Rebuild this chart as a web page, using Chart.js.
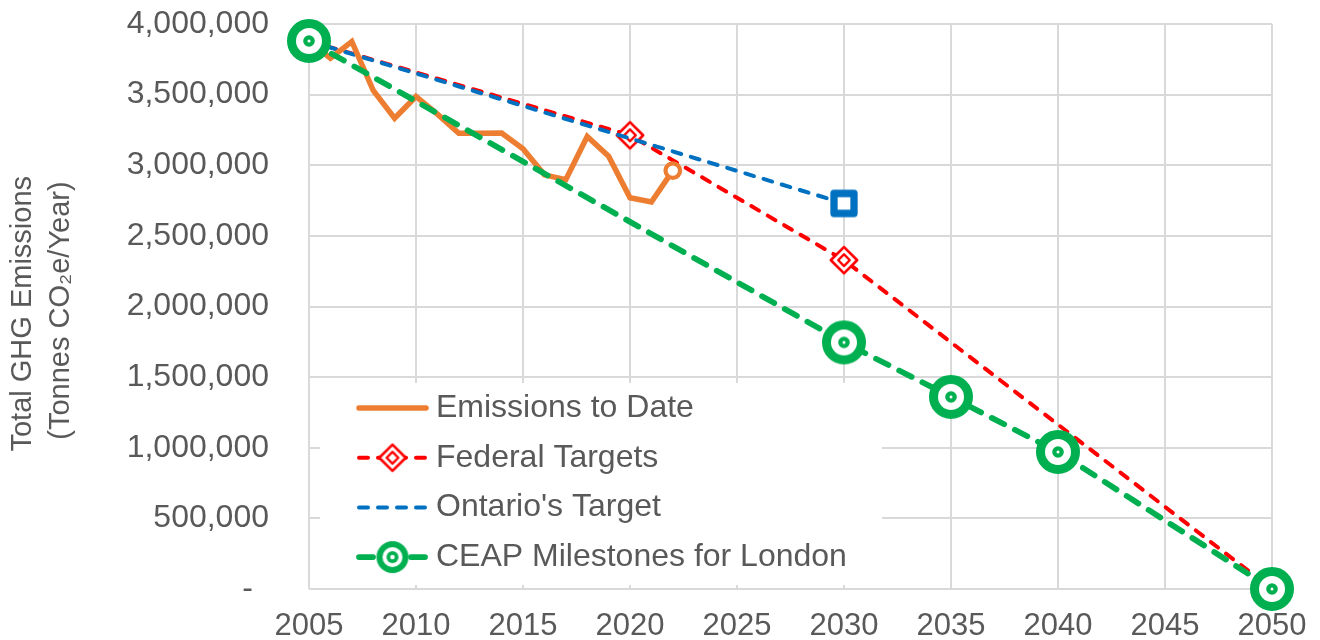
<!DOCTYPE html>
<html>
<head>
<meta charset="utf-8">
<script src="https://cdn.jsdelivr.net/npm/chart.js@4.4.1/dist/chart.umd.min.js"></script>
<style>
html,body{margin:0;padding:0;background:#ffffff;}
canvas{display:block;}
</style>
</head>
<body>
<canvas id="c" width="1320" height="640"></canvas>
<script>
// ---------------- data ----------------
const seriesNames = ['Emissions to Date', 'Federal Targets', "Ontario's Target", 'CEAP Milestones for London'];

const emissionYears  = [2005, 2006, 2007, 2008, 2009, 2010, 2011, 2012, 2013, 2014, 2015, 2016, 2017, 2018, 2019, 2020, 2021, 2022];
const emissionValues = [3880000, 3758000, 3876000, 3530000, 3333000, 3487000, 3362000, 3226000, 3226000, 3228000, 3116000, 2932000, 2898000, 3203000, 3064000, 2770000, 2740000, 2962000];

const federalYears  = [2005, 2020, 2030, 2050];
const federalValues = [3880000, 3212000, 2328000, 0];

const ontarioYears  = [2005, 2030];
const ontarioValues = [3880000, 2730000];

const ceapYears  = [2005, 2030, 2035, 2040, 2050];
const ceapValues = [3880000, 1746000, 1360000, 970000, 0];

const xTickValues = [2005, 2010, 2015, 2020, 2025, 2030, 2035, 2040, 2045, 2050];
const yTickValues = [0, 500000, 1000000, 1500000, 2000000, 2500000, 3000000, 3500000, 4000000];

const yTitleLines = ['Total GHG Emissions\u2002', '(Tonnes CO\u2082e/Year) '];

// ---------------- styles ----------------
const ORANGE = '#ED7D31', RED = '#FF0000', BLUE = '#0070C0', GREEN = '#00B050';
const TEXT = '#595959', GRID = '#d9d9d9';
const FONT = "'Liberation Sans', Arial, sans-serif";

function makeCanvas(size, draw) {
  const c = document.createElement('canvas');
  c.width = size; c.height = size;
  const g = c.getContext('2d');
  draw(g, size / 2);
  return c;
}
function ceapMarker(size, rRing, wRing, rDot, rHole) {
  return makeCanvas(size, (g, c) => {
    g.beginPath(); g.arc(c, c, rRing, 0, Math.PI * 2);
    g.fillStyle = '#fff'; g.fill();
    g.lineWidth = wRing; g.strokeStyle = GREEN; g.stroke();
    g.beginPath(); g.arc(c, c, rDot, 0, Math.PI * 2);
    g.fillStyle = GREEN; g.fill();
    g.beginPath(); g.arc(c, c, rHole, 0, Math.PI * 2);
    g.fillStyle = '#fff'; g.fill();
  });
}
function diamondMarker(size, rOut, rIn) {
  return makeCanvas(size, (g, c) => {
    const dia = (r) => { g.beginPath(); g.moveTo(c, c - r); g.lineTo(c + r, c); g.lineTo(c, c + r); g.lineTo(c - r, c); g.closePath(); };
    g.lineJoin = 'round';
    dia(rOut); g.fillStyle = '#fff'; g.fill();
    g.lineWidth = 2.6; g.strokeStyle = RED; g.stroke();
    dia(rIn); g.lineWidth = 2.4; g.stroke();
  });
}
function squareMarker(size, half, w) {
  return makeCanvas(size, (g, c) => {
    g.lineJoin = 'round';
    g.beginPath(); g.rect(c - half, c - half, half * 2, half * 2);
    g.fillStyle = '#fff'; g.fill();
    g.lineWidth = w; g.strokeStyle = BLUE; g.stroke();
  });
}

const ceapPoint = ceapMarker(50, 17.5, 9, 5.8, 1.5);
const ceapLegendPoint = ceapMarker(36, 13, 6, 6, 2.3);
const fedPoint = diamondMarker(34, 13.2, 5.8);
const ontPoint = squareMarker(34, 10, 7.3);

const toXY = (xs, ys) => xs.map((x, i) => ({x: x, y: ys[i]}));

// target plot rectangle
const AREA = {left: 309, top: 24, right: 1272, bottom: 589};

// ---------------- legend plugin (inside plot area) ----------------
const insideLegend = {
  id: 'insideLegend',
  beforeDatasetsDraw(chart) {
    const ctx = chart.ctx, a = chart.chartArea;
    const box = {l: a.left + 11, t: a.top + 359, r: a.left + 573, b: a.bottom - 4};
    ctx.save();
    ctx.fillStyle = '#fff';
    ctx.fillRect(box.l, box.t, box.r - box.l, box.b - box.t);
    const x0 = a.left + 50, x1 = a.left + 117, tx = a.left + 127;
    const rowY0 = a.top + 384, rowStep = 49.7;
    chart.data.datasets.forEach((ds, i) => {
      const y = rowY0 + i * rowStep;
      ctx.save();
      ctx.strokeStyle = ds.borderColor;
      ctx.lineWidth = ds.borderWidth;
      ctx.lineCap = 'round';
      ctx.setLineDash(ds.borderDash || []);
      ctx.beginPath(); ctx.moveTo(x0, y); ctx.lineTo(x1, y); ctx.stroke();
      ctx.restore();
      const mk = ds.legendMarker;
      if (mk) ctx.drawImage(mk, (x0 + x1) / 2 - mk.width / 2, y - mk.height / 2);
      ctx.fillStyle = TEXT;
      ctx.font = '32px ' + FONT;
      ctx.textBaseline = 'middle';
      ctx.textAlign = 'left';
      ctx.fillText(ds.label, tx, y);
    });
    ctx.restore();
  }
};

// ---------------- chart ----------------
const lastEm = emissionValues.length - 1;
const chart = new Chart(document.getElementById('c'), {
  type: 'line',
  data: {
    datasets: [
      {
        label: seriesNames[0],
        data: toXY(emissionYears, emissionValues),
        borderColor: ORANGE, borderWidth: 5.5, borderCapStyle: 'round', borderJoinStyle: 'miter',
        pointRadius: (c) => c.dataIndex === lastEm ? 7.3 : 0,
        pointBorderWidth: 4.2, pointBorderColor: ORANGE, pointBackgroundColor: '#fff',
        pointStyle: 'circle', order: 1, clip: false, fill: false
      },
      {
        label: seriesNames[1],
        data: toXY(federalYears, federalValues),
        borderColor: RED, borderWidth: 4, borderDash: [9, 10], borderCapStyle: 'round',
        pointStyle: fedPoint, pointRadius: 14, legendMarker: fedPoint,
        order: 3, clip: false, fill: false
      },
      {
        label: seriesNames[2],
        data: toXY(ontarioYears, ontarioValues),
        borderColor: BLUE, borderWidth: 4, borderDash: [9, 10], borderCapStyle: 'round',
        pointStyle: ontPoint, pointRadius: (c) => c.dataIndex === ontarioValues.length - 1 ? 14 : 0,
        order: 2, clip: false, fill: false
      },
      {
        label: seriesNames[3],
        data: toXY(ceapYears, ceapValues),
        borderColor: GREEN, borderWidth: 5.75, borderDash: [14, 12], borderCapStyle: 'round',
        pointStyle: ceapPoint, pointRadius: 22, legendMarker: ceapLegendPoint,
        order: 0, clip: false, fill: false
      }
    ]
  },
  options: {
    responsive: false,
    devicePixelRatio: 1,
    animation: false,
    events: [],
    layout: {autoPadding: false, padding: {left: 0, top: AREA.top, right: 1320 - AREA.right, bottom: 0}},
    plugins: {legend: {display: false}, tooltip: {enabled: false}},
    scales: {
      x: {
        type: 'linear', min: 2005, max: 2050,
        afterBuildTicks: (s) => { s.ticks = xTickValues.map(v => ({value: v})); },
        afterFit: (s) => { s.height = 640 - AREA.bottom; s.paddingLeft = 0; s.paddingRight = 0; s.paddingTop = 0; s.paddingBottom = 0; },
        grid: {color: GRID, lineWidth: 2, drawTicks: false},
        border: {display: false},
        ticks: {color: TEXT, font: {family: FONT, size: 31}, padding: 19, maxRotation: 0, autoSkip: false,
                callback: (v) => String(v)}
      },
      y: {
        type: 'linear', min: 0, max: 4000000,
        afterBuildTicks: (s) => { s.ticks = yTickValues.map(v => ({value: v})); },
        afterFit: (s) => { s.width = AREA.left; s.paddingLeft = 0; s.paddingRight = 0; s.paddingTop = 0; s.paddingBottom = 0; },
        grid: {color: GRID, lineWidth: 2, drawTicks: false},
        border: {display: false},
        ticks: {color: TEXT, font: {family: FONT, size: 32}, padding: 40, autoSkip: false,
                callback: (v) => v === 0 ? '-\u2002' : v.toLocaleString('en-US')},
        title: {display: true, text: yTitleLines, color: TEXT,
                font: {family: FONT, size: 29, lineHeight: 1.31}, padding: {top: 4, bottom: 0}}
      }
    }
  },
  plugins: [insideLegend]
});
// nudge the layout so the plot rectangle lands where the reference has it
for (let k = 0; k < 3; k++) {
  const a = chart.chartArea, p = chart.options.layout.padding;
  const np = {
    left: p.left + (AREA.left - a.left),
    top: p.top + (AREA.top - a.top),
    right: p.right + (a.right - AREA.right),
    bottom: p.bottom + (a.bottom - AREA.bottom)
  };
  if (Math.abs(np.left - p.left) + Math.abs(np.top - p.top) + Math.abs(np.right - p.right) + Math.abs(np.bottom - p.bottom) < 0.5) break;
  chart.options.layout.padding = np;
  chart.update('none');
}
</script>
</body>
</html>
